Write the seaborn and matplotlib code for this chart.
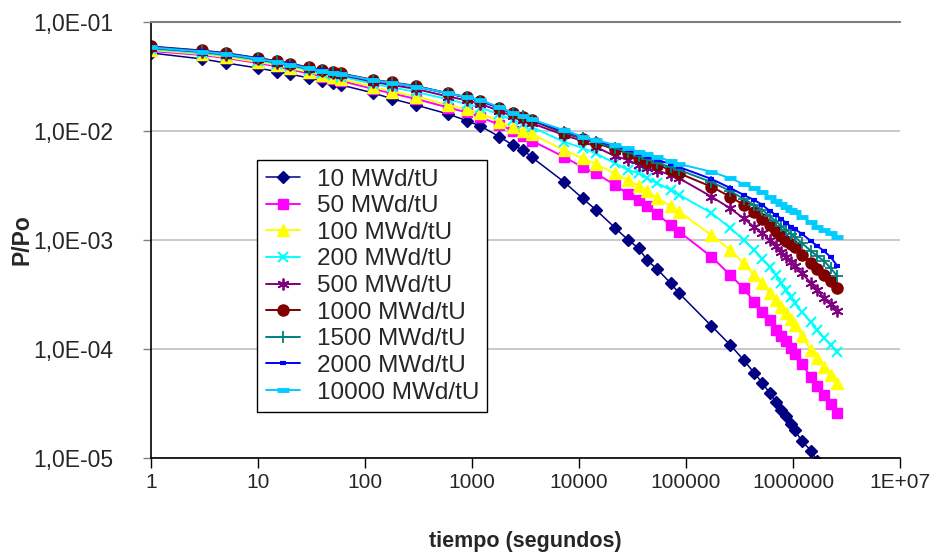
import matplotlib
matplotlib.use("Agg")
import matplotlib.pyplot as plt
import numpy as np
import pandas as pd
import seaborn as sns
from matplotlib.ticker import FixedLocator, FixedFormatter, NullLocator

# ---------------- data ----------------
time_s = [1, 3, 5, 10, 15, 20, 30, 40, 50, 60, 120, 180, 300, 600, 900, 1200,
          1800, 2400, 3000, 3600, 7200, 10800, 14400, 21600, 28800, 36000,
          43200, 54000, 72000, 86400, 172800, 259200, 345600, 432000, 518400,
          604800, 691200, 777600, 864000, 950400, 1036800, 1209600, 1468800,
          1684800, 1944000, 2246400, 2592000]

p_10 = [0.052, 0.0458, 0.0421, 0.0378, 0.0351, 0.0333, 0.0306, 0.0288, 0.0274, 0.0264,
        0.0223, 0.0197, 0.0173, 0.0143, 0.0124, 0.0111, 0.00887, 0.00744, 0.00670, 0.00577,
        0.00343, 0.00241, 0.00189, 0.00130, 0.00100, 0.000844, 0.000655, 0.000538, 0.000401, 0.000324,
        1.63e-4, 1.09e-4, 7.93e-5, 6.06e-5, 4.88e-5, 3.93e-5, 3.28e-5, 2.76e-5, 2.43e-5,
        2.05e-5, 1.81e-5, 1.43e-5, 1.17e-5, 9.4e-6]

p_50 = [0.0542, 0.0498, 0.0467, 0.0421, 0.0391, 0.0367, 0.0337, 0.0316, 0.0300, 0.0288,
        0.0243, 0.0221, 0.0197, 0.0164, 0.0148, 0.0134, 0.0114, 0.0101, 0.00905, 0.00815,
        0.00581, 0.00465, 0.00409, 0.00320, 0.00264, 0.00233, 0.00205, 0.00172, 0.00137, 0.00119,
        7.03e-4, 4.77e-4, 3.60e-4, 2.72e-4, 2.20e-4, 1.85e-4, 1.49e-4, 1.32e-4, 1.18e-4,
        1.02e-4, 9.00e-5, 7.29e-5, 5.53e-5, 4.58e-5, 3.78e-5, 3.13e-5, 2.59e-5]

p_100 = [0.0554, 0.0509, 0.0477, 0.0430, 0.0403, 0.0378, 0.0348, 0.0327, 0.0313, 0.0300,
         0.0253, 0.0230, 0.0207, 0.0173, 0.0158, 0.0146, 0.0122, 0.0108, 0.0101, 0.00939,
         0.00670, 0.00562, 0.00498, 0.00409, 0.00355, 0.00313, 0.00283, 0.00241, 0.00205, 0.00182,
         1.11e-3, 8.10e-4, 6.11e-4, 4.77e-4, 4.01e-4, 3.24e-4, 2.81e-4, 2.43e-4, 2.14e-4,
         1.89e-4, 1.66e-4, 1.32e-4, 9.79e-5, 8.27e-5, 6.84e-5, 5.77e-5, 4.88e-5]

p_200 = [0.0565, 0.0519, 0.0493, 0.0443, 0.0416, 0.0395, 0.0363, 0.0340, 0.0327, 0.0316,
         0.0270, 0.0251, 0.0228, 0.0195, 0.0177, 0.0164, 0.0142, 0.0126, 0.0117, 0.0109,
         0.00798, 0.00698, 0.00624, 0.00506, 0.00439, 0.00409, 0.00371, 0.00331, 0.00288, 0.00259,
         1.77e-3, 1.29e-3, 1.00e-3, 8.10e-4, 6.70e-4, 5.65e-4, 4.77e-4, 4.03e-4, 3.48e-4,
         3.00e-4, 2.64e-4, 2.18e-4, 1.77e-4, 1.49e-4, 1.26e-4, 1.09e-4, 9.39e-5]

p_500 = [0.0577, 0.0531, 0.0503, 0.0453, 0.0425, 0.0403, 0.0371, 0.0352, 0.0337, 0.0327,
         0.0282, 0.0264, 0.0243, 0.0207, 0.0191, 0.0177, 0.0153, 0.0137, 0.0127, 0.0118,
         0.00919, 0.00810, 0.00713, 0.00590, 0.00542, 0.00488, 0.00455, 0.00434, 0.00395, 0.00368,
         2.50e-3, 1.95e-3, 1.58e-3, 1.32e-3, 1.15e-3, 1.00e-3, 8.81e-4, 7.76e-4, 6.98e-4,
         6.28e-4, 5.77e-4, 4.98e-4, 4.03e-4, 3.48e-4, 2.94e-4, 2.59e-4, 2.23e-4]

p_1000 = [0.0596, 0.0548, 0.0519, 0.0467, 0.0439, 0.0416, 0.0383, 0.0363, 0.0348, 0.0337,
          0.0294, 0.0279, 0.0259, 0.0221, 0.0203, 0.0189, 0.0163, 0.0145, 0.0134, 0.0125,
          0.00959, 0.00853, 0.00776, 0.00679, 0.00624, 0.00562, 0.00523, 0.00488, 0.00439, 0.00409,
          3.08e-3, 2.50e-3, 2.10e-3, 1.82e-3, 1.56e-3, 1.37e-3, 1.21e-3, 1.08e-3, 9.79e-4,
          9.19e-4, 8.63e-4, 7.28e-4, 6.15e-4, 5.42e-4, 4.77e-4, 4.21e-4, 3.63e-4]

p_1500 = [0.0592, 0.0543, 0.0515, 0.0464, 0.0435, 0.0413, 0.0379, 0.0360, 0.0345, 0.0334,
          0.0292, 0.0277, 0.0257, 0.0222, 0.0204, 0.0190, 0.0164, 0.0147, 0.0136, 0.0127,
          0.00979, 0.00863, 0.00793, 0.00698, 0.00642, 0.00590, 0.00548, 0.00509, 0.00467, 0.00439,
          3.40e-3, 2.82e-3, 2.38e-3, 2.10e-3, 1.89e-3, 1.66e-3, 1.49e-3, 1.34e-3, 1.24e-3,
          1.14e-3, 1.07e-3, 9.39e-4, 7.93e-4, 7.13e-4, 6.42e-4, 5.53e-4, 4.67e-4]

p_2000 = [0.0590, 0.0542, 0.0514, 0.0463, 0.0434, 0.0412, 0.0378, 0.0359, 0.0344, 0.0333,
          0.0291, 0.0276, 0.0256, 0.0221, 0.0203, 0.0189, 0.0163, 0.0146, 0.0136, 0.0126,
          0.0100, 0.00881, 0.00810, 0.00729, 0.00670, 0.00615, 0.00577, 0.00542, 0.00498, 0.00467,
          3.63e-3, 3.00e-3, 2.59e-3, 2.33e-3, 2.10e-3, 1.85e-3, 1.70e-3, 1.56e-3, 1.43e-3,
          1.33e-3, 1.26e-3, 1.14e-3, 9.79e-4, 8.81e-4, 7.93e-4, 6.98e-4, 5.80e-4]

p_10000 = [0.0584, 0.0536, 0.0509, 0.0458, 0.0430, 0.0407, 0.0375, 0.0355, 0.0344, 0.0333,
           0.0291, 0.0276, 0.0256, 0.0221, 0.0205, 0.0193, 0.0165, 0.0147, 0.0137, 0.0128,
           0.0102, 0.00886, 0.00827, 0.00744, 0.00694, 0.00646, 0.00615, 0.00577, 0.00531, 0.00498,
           4.23e-3, 3.68e-3, 3.26e-3, 3.00e-3, 2.76e-3, 2.48e-3, 2.30e-3, 2.14e-3, 2.01e-3,
           1.89e-3, 1.79e-3, 1.63e-3, 1.45e-3, 1.33e-3, 1.24e-3, 1.15e-3, 1.07e-3]

series_labels = ["10 MWd/tU", "50 MWd/tU", "100 MWd/tU", "200 MWd/tU", "500 MWd/tU",
                 "1000 MWd/tU", "1500 MWd/tU", "2000 MWd/tU", "10000 MWd/tU"]
series_values = [p_10, p_50, p_100, p_200, p_500, p_1000, p_1500, p_2000, p_10000]

x_tick_values = [1, 10, 100, 1000, 10000, 100000, 1000000, 10000000]
x_tick_labels = ["1", "10", "100", "1000", "10000", "100000", "1000000", "1E+07"]
y_tick_values = [1e-5, 1e-4, 1e-3, 1e-2, 1e-1]
y_tick_labels = ["1,0E-05", "1,0E-04", "1,0E-03", "1,0E-02", "1,0E-01"]

# ---------------- build long table ----------------
frames = []
for lab, vals in zip(series_labels, series_values):
    frames.append(pd.DataFrame({"t": time_s[:len(vals)], "p": vals, "serie": lab}))
df = pd.concat(frames, ignore_index=True)

# ---------------- style ----------------
sns.set_theme(style="white")
plt.rcParams["font.family"] = ["Liberation Sans", "DejaVu Sans"]

styles = {
    "10 MWd/tU":    dict(color="#000080", marker="D", ms=6.5, lw=1.1, mew=1.0),
    "50 MWd/tU":    dict(color="#FF00FF", marker="s", ms=7.0, lw=1.4, mew=1.0),
    "100 MWd/tU":   dict(color="#FFFF00", marker="^", ms=8.5, lw=1.4, mew=1.0),
    "200 MWd/tU":   dict(color="#00FFFF", marker="x", ms=7.5, lw=1.4, mew=1.5),
    "500 MWd/tU":   dict(color="#800080", marker=(6, 2, 0), ms=8.5, lw=1.4, mew=1.3),
    "1000 MWd/tU":  dict(color="#800000", marker="o", ms=8.0, lw=1.4, mew=1.0),
    "1500 MWd/tU":  dict(color="#008080", marker="+", ms=8.5, lw=1.4, mew=1.3),
    "2000 MWd/tU":  dict(color="#0000FF", marker="_", ms=5.0, lw=1.4, mew=3.0),
    "10000 MWd/tU": dict(color="#00CCFF", marker="_", ms=8.0, lw=1.4, mew=3.5),
}

fig = plt.figure(figsize=(9.42, 5.55), dpi=100)
ax = fig.add_axes([151 / 942, (555 - 458) / 555, (900 - 151) / 942, (458 - 22) / 555])

for lab in series_labels:
    st = styles[lab]
    sns.lineplot(data=df[df["serie"] == lab], x="t", y="p", ax=ax,
                 color=st["color"], marker=st["marker"], markersize=st["ms"],
                 linewidth=st["lw"], markeredgewidth=st["mew"],
                 markeredgecolor=st["color"], markerfacecolor=st["color"],
                 label=lab, estimator=None, sort=False)

ax.set_xscale("log")
ax.set_yscale("log")
ax.set_xlim(1, 1e7)
ax.set_ylim(1e-5, 1e-1)

ax.xaxis.set_major_locator(FixedLocator(x_tick_values))
ax.xaxis.set_major_formatter(FixedFormatter(x_tick_labels))
ax.xaxis.set_minor_locator(NullLocator())
ax.yaxis.set_major_locator(FixedLocator(y_tick_values))
ax.yaxis.set_major_formatter(FixedFormatter(y_tick_labels))
ax.yaxis.set_minor_locator(NullLocator())

ax.tick_params(axis="x", which="major", direction="out", length=7, width=1.0,
               color="black", labelsize=15, pad=4, bottom=True)
ax.tick_params(axis="y", which="major", direction="out", length=6, width=1.0,
               color="#808080", labelsize=16.5, pad=21, left=True)

ax.grid(False)
ax.yaxis.grid(True, color="#c0c0c0", linewidth=1.2)
ax.set_axisbelow(True)

ax.spines["right"].set_visible(False)
ax.spines["top"].set_color("#808080")
ax.spines["top"].set_linewidth(1.5)
ax.spines["left"].set_color("black")
ax.spines["left"].set_linewidth(1.2)
ax.spines["bottom"].set_color("black")
ax.spines["bottom"].set_linewidth(1.2)

ax.set_xlabel("tiempo (segundos)", fontsize=15.5, fontweight="bold", labelpad=28)
ax.set_ylabel("P/Po", fontsize=16.5, fontweight="bold", labelpad=0)

leg = ax.legend(loc="upper left", bbox_to_anchor=((257 - 151) / 749, (458 - 160) / 436),
                borderaxespad=0, frameon=True, fancybox=False, shadow=False,
                fontsize=17.5, handlelength=1.4, handletextpad=0.7, labelspacing=0.19,
                borderpad=0.35, numpoints=1)
leg.get_frame().set_edgecolor("black")
leg.get_frame().set_linewidth(1.0)
leg.get_frame().set_facecolor("white")
leg.get_frame().set_alpha(1.0)

fig.savefig("out.png", dpi=100)
